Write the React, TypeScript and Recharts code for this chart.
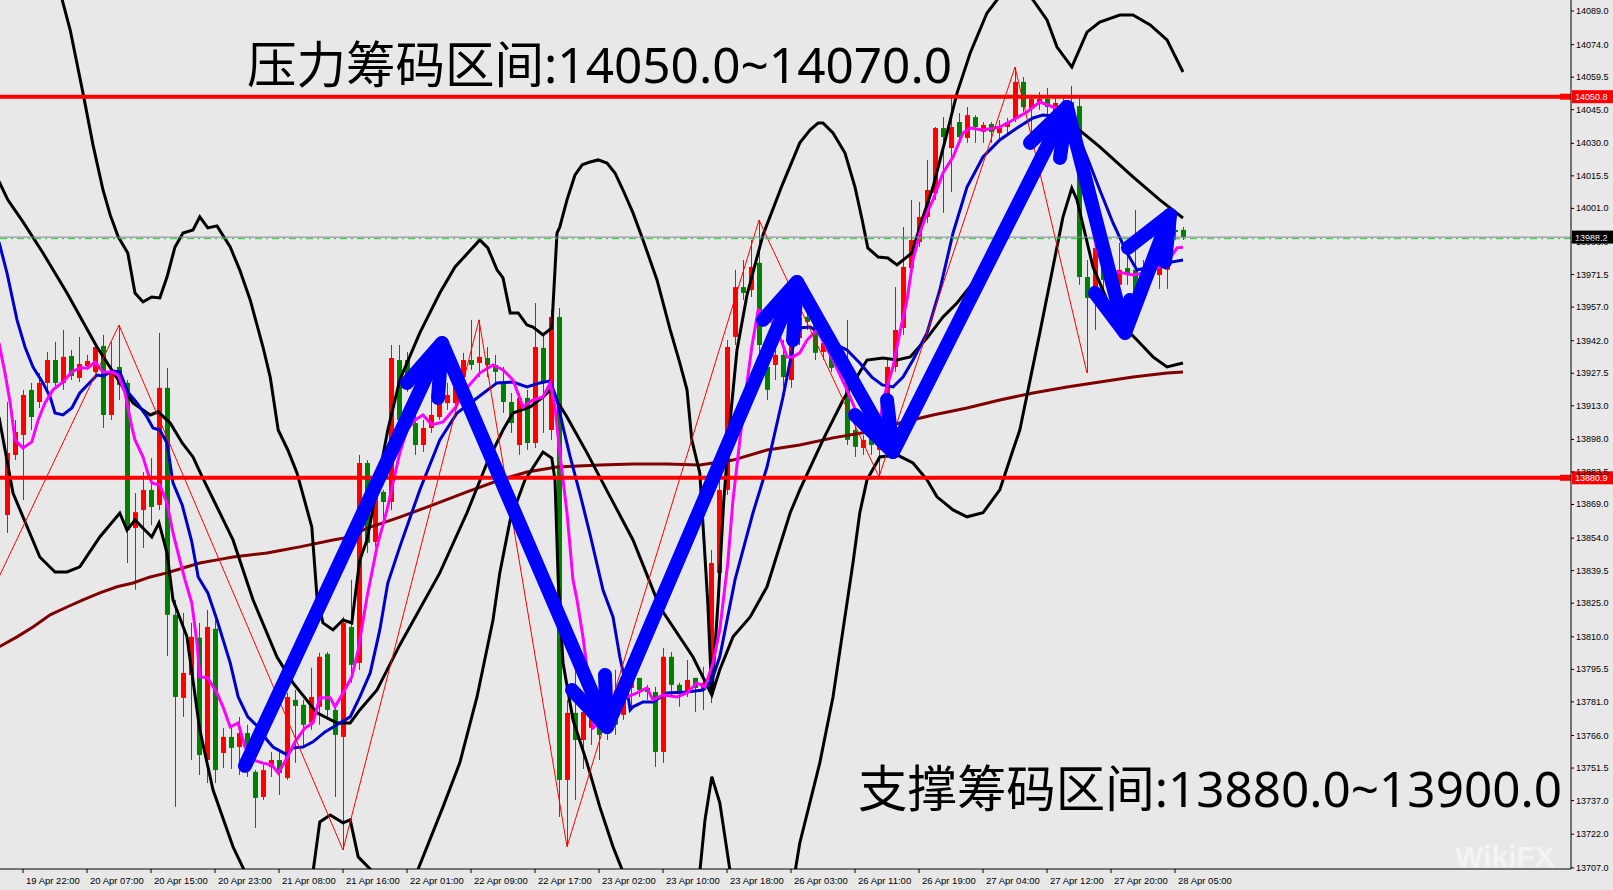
import React from "react";
import {
  ComposedChart,
  Bar,
  Line,
  XAxis,
  YAxis,
  ReferenceLine,
  Customized,
} from "recharts";

// H1 candles, index 0 = 19 Apr 22:00
const START = -2;

const opens = [
  13864.3, 13891.1, 13900.0, 13920.1, 13914.7, 13923.2, 13933.4, 13923.2, 13935.2, 13925.4,
  13930.7, 13928.1, 13939.7, 13908.9, 13930.3, 13923.2, 13858.5, 13866.5, 13875.5, 13868.8,
  13921.0, 13819.8, 13782.8, 13793.0, 13809.6, 13755.1, 13813.6, 13758.2, 13765.4, 13760.9,
  13767.1, 13749.8, 13738.6, 13751.9, 13755.1, 13747.1, 13781.9, 13779.7, 13771.7, 13778.8,
  13802.4, 13777.4, 13765.4, 13814.4, 13798.4, 13887.5, 13852.3, 13874.6, 13870.1, 13933.4,
  13933.4, 13905.3, 13895.5, 13903.1, 13908.0, 13914.2, 13914.2, 13925.8, 13933.4, 13932.1,
  13934.3, 13931.2, 13923.6, 13914.7, 13895.5, 13916.5, 13896.4, 13938.8, 13902.2, 13952.6,
  13746.2, 13776.1, 13764.0, 13769.4, 13773.0, 13768.5, 13776.5, 13775.2, 13787.2, 13791.7,
  13787.2, 13785.4, 13758.7, 13801.1, 13788.6, 13785.4, 13791.7, 13786.3, 13786.3, 13838.5,
  13875.5, 13943.7, 13965.9, 13964.6, 13976.7, 13930.3, 13931.2, 13935.7, 13924.5, 13943.2,
  13952.6, 13951.3, 13937.0, 13939.2, 13930.3, 13931.2, 13902.2, 13894.2, 13898.7, 13893.3,
  13897.8, 13930.3, 13947.7, 13974.4, 13986.0, 13997.2, 14007.9, 14036.8, 14027.9, 14039.5,
  14032.4, 14041.7, 14035.1, 14038.6, 14034.6, 14037.3, 14041.3, 14057.4, 14045.8, 14048.0,
  14049.8, 14044.0, 14046.2, 14048.4, 14046.6, 13970.4, 13960.2, 13982.5, 13964.6, 13966.9,
  13974.4, 13973.6, 13966.9, 13981.1, 13971.3, 13973.6, 13991.4, 13991.4,
];

const highs = [
  13914.7, 13906.7, 13920.1, 13923.2, 13927.6, 13937.0, 13941.5, 13946.8, 13937.9, 13943.7,
  13935.7, 13940.1, 13944.6, 13941.5, 13949.0, 13924.5, 13874.1, 13883.5, 13889.7, 13945.5,
  13929.9, 13826.5, 13820.7, 13816.2, 13816.2, 13822.0, 13817.6, 13769.4, 13769.4, 13774.3,
  13770.8, 13750.6, 13752.9, 13758.7, 13758.7, 13785.0, 13786.3, 13781.9, 13796.2, 13802.9,
  13803.3, 13778.8, 13818.9, 13835.4, 13891.1, 13888.8, 13877.0, 13875.5, 13940.1, 13940.1,
  13937.0, 13908.9, 13906.7, 13915.6, 13921.4, 13923.2, 13926.7, 13936.6, 13951.3, 13951.3,
  13939.2, 13935.7, 13930.3, 13918.7, 13918.7, 13920.1, 13958.8, 13945.5, 13955.7, 13956.6,
  13781.9, 13798.4, 13777.4, 13781.9, 13777.4, 13778.3, 13795.3, 13786.3, 13793.0, 13791.7,
  13788.6, 13787.7, 13805.1, 13803.3, 13789.5, 13799.7, 13791.7, 13796.6, 13848.7, 13879.9,
  13942.3, 13973.6, 13978.0, 13986.9, 13995.8, 13943.7, 13939.2, 13942.3, 13945.5, 13955.7,
  13955.7, 13953.5, 13944.6, 13942.3, 13936.6, 13951.3, 13904.5, 13900.0, 13901.3, 13901.3,
  13933.4, 13965.9, 13992.7, 14004.8, 14003.9, 14022.6, 14037.3, 14041.7, 14050.7, 14043.5,
  14046.2, 14042.6, 14039.5, 14039.5, 14040.4, 14041.3, 14064.0, 14059.6, 14051.6, 14052.9,
  14054.7, 14050.2, 14050.7, 14055.6, 14050.7, 13978.0, 13984.7, 13986.9, 13978.0, 13985.6,
  13980.2, 14000.3, 13978.0, 13984.7, 13982.5, 13986.9, 13994.5, 13992.7,
];

const lows = [
  13856.3, 13888.8, 13871.0, 13902.2, 13912.0, 13918.7, 13921.0, 13920.1, 13924.5, 13923.6,
  13929.0, 13927.6, 13903.1, 13906.7, 13915.6, 13842.9, 13830.9, 13849.6, 13859.8, 13866.5,
  13801.5, 13734.2, 13774.3, 13755.1, 13748.4, 13744.8, 13744.8, 13751.5, 13751.1, 13748.4,
  13747.5, 13724.8, 13737.3, 13747.5, 13739.5, 13746.2, 13753.8, 13760.9, 13768.5, 13770.8,
  13773.0, 13738.6, 13715.0, 13789.5, 13795.3, 13847.4, 13850.1, 13858.9, 13866.5, 13897.8,
  13919.2, 13891.1, 13892.4, 13900.9, 13906.7, 13911.1, 13911.1, 13923.2, 13929.0, 13925.8,
  13925.8, 13922.3, 13909.8, 13900.9, 13891.1, 13893.3, 13894.2, 13900.9, 13897.8, 13729.7,
  13716.4, 13737.3, 13751.1, 13761.8, 13755.1, 13764.0, 13766.3, 13773.0, 13778.8, 13783.2,
  13781.9, 13752.0, 13753.8, 13783.2, 13778.8, 13783.2, 13776.5, 13777.4, 13780.5, 13835.4,
  13873.3, 13940.1, 13960.2, 13961.5, 13936.6, 13915.6, 13924.5, 13921.4, 13921.0, 13940.1,
  13946.8, 13933.4, 13933.4, 13928.1, 13926.7, 13895.5, 13890.2, 13891.1, 13891.1, 13881.3,
  13894.7, 13928.1, 13944.6, 13971.3, 13983.8, 13994.5, 14004.8, 13999.0, 14008.3, 14030.6,
  14030.2, 14030.2, 14030.2, 14030.2, 14031.5, 14033.7, 14039.5, 14044.0, 14034.6, 14044.9,
  14040.4, 14041.3, 14044.0, 14044.0, 13966.9, 13927.6, 13946.8, 13960.2, 13960.2, 13963.7,
  13966.9, 13957.1, 13964.6, 13972.7, 13965.1, 13965.1, 13986.9, 13986.9,
];

const closes = [
  13892.0, 13901.3, 13917.8, 13908.0, 13923.2, 13933.4, 13923.2, 13934.8, 13926.3, 13931.6,
  13933.0, 13939.2, 13908.9, 13928.1, 13922.3, 13857.6, 13865.6, 13875.5, 13867.9, 13921.0,
  13819.8, 13783.2, 13793.9, 13810.0, 13757.3, 13814.4, 13750.6, 13765.4, 13760.5, 13767.1,
  13760.9, 13738.2, 13750.6, 13755.1, 13749.3, 13783.2, 13779.2, 13770.8, 13783.2, 13801.1,
  13777.4, 13766.3, 13816.2, 13797.5, 13887.5, 13851.9, 13874.6, 13870.1, 13934.3, 13906.7,
  13923.2, 13895.5, 13903.1, 13908.9, 13914.2, 13917.8, 13921.4, 13933.4, 13931.2, 13934.8,
  13931.2, 13928.1, 13914.7, 13905.3, 13916.5, 13896.4, 13939.2, 13923.2, 13952.6, 13746.2,
  13776.1, 13764.0, 13776.5, 13774.3, 13766.3, 13773.9, 13770.8, 13781.9, 13791.7, 13786.3,
  13785.4, 13758.7, 13801.1, 13788.6, 13785.4, 13790.8, 13787.2, 13789.5, 13842.9, 13875.5,
  13939.2, 13965.9, 13963.3, 13974.9, 13940.1, 13920.1, 13935.7, 13925.8, 13943.2, 13952.2,
  13950.4, 13936.6, 13941.0, 13929.9, 13934.3, 13897.8, 13894.7, 13897.8, 13895.5, 13897.8,
  13930.3, 13946.8, 13974.9, 13986.9, 13997.2, 14009.2, 14036.8, 14032.8, 14037.3, 14032.8,
  14042.6, 14037.3, 14038.2, 14035.1, 14036.8, 14039.5, 14057.4, 14046.2, 14049.8, 14049.8,
  14046.2, 14048.0, 14048.0, 14046.6, 13970.4, 13961.1, 13983.4, 13969.1, 13971.3, 13973.6,
  13971.3, 13960.2, 13974.4, 13974.9, 13980.2, 13983.8, 13990.5, 13988.2,
];

const timeLabels = [
  "19 Apr 22:00", "20 Apr 07:00", "20 Apr 15:00", "20 Apr 23:00", "21 Apr 08:00",
  "21 Apr 16:00", "22 Apr 01:00", "22 Apr 09:00", "22 Apr 17:00", "23 Apr 02:00",
  "23 Apr 10:00", "23 Apr 18:00", "26 Apr 03:00", "26 Apr 11:00", "26 Apr 19:00",
  "27 Apr 04:00", "27 Apr 12:00", "27 Apr 20:00", "28 Apr 05:00",
];

const priceTicks = [
  14089.0, 14074.0, 14059.5, 14045.0, 14030.0, 14015.5, 14001.0, 13986.0, 13971.5,
  13957.0, 13942.0, 13927.5, 13913.0, 13898.0, 13883.5, 13869.0, 13854.0, 13839.5,
  13825.0, 13810.0, 13795.5, 13781.0, 13766.0, 13751.5, 13737.0, 13722.0, 13707.0,
];

const resistanceLevel = 14050.8;
const supportLevel = 13880.9;
const lastPrice = 13988.2;

// indicator lines as [bar index, price]
const maFast: [number, number][] = [
  [-3, 13941.0], [-2.25, 13927.6], [-1.6, 13914.3], [-1, 13897.8], [0, 13894.2], [1.1, 13896.9],
  [1.9, 13906.7], [2.75, 13914.3], [3.75, 13920.1], [5, 13923.6], [6.1, 13928.1], [7.1, 13929.9],
  [8.1, 13929.9], [9, 13932.5], [10, 13928.1], [11.1, 13928.1], [11.9, 13926.7], [12.75, 13918.7],
  [13.6, 13903.6], [14, 13897.8], [15, 13890.2], [15.6, 13883.1], [16.1, 13878.6], [17.1, 13877.7],
  [18, 13869.7], [18.75, 13856.3], [19.6, 13844.3], [20.25, 13835.4], [21.1, 13825.1], [21.75, 13807.3],
  [22.1, 13792.1], [23.1, 13791.7], [24.25, 13785.0], [25, 13778.8], [25.9, 13769.8], [26.9, 13771.6],
  [27.75, 13760.9], [28.75, 13755.1], [30, 13753.7], [31.1, 13752.9], [31.9, 13749.3], [33, 13756.0],
  [34, 13763.2], [35.25, 13769.4], [36.25, 13771.6], [37.1, 13782.8], [38.4, 13782.8], [39, 13778.8],
  [40, 13785.0], [41.1, 13792.1], [41.9, 13804.1], [43, 13827.8], [44.25, 13850.1], [45.5, 13866.6],
  [47.1, 13892.0], [48, 13902.2], [49, 13906.7], [50, 13908.9], [51.1, 13904.5], [52.5, 13905.8],
  [54, 13912.0], [55.5, 13921.0], [57.1, 13927.6], [58.75, 13931.2], [60, 13929.0], [61.25, 13924.5],
  [62.5, 13912.5], [63.75, 13915.6], [65, 13916.9], [65.9, 13923.2], [66.5, 13912.5], [67.1, 13892.0],
  [68, 13865.2], [68.75, 13835.4], [69.25, 13826.5], [70, 13809.9], [70.9, 13785.0], [71.25, 13769.4],
  [72.1, 13771.6], [73.75, 13777.4], [75.5, 13783.2], [76.75, 13785.0], [78, 13787.2], [78.75, 13781.9],
  [80, 13784.1], [81.75, 13783.2], [83, 13785.0], [84.25, 13789.4], [85.25, 13787.7], [86.25, 13798.4],
  [87.1, 13813.1], [88.1, 13843.0], [88.75, 13871.0], [90, 13909.8], [91.1, 13939.2], [91.9, 13955.7],
  [92.5, 13954.4], [93.75, 13949.9], [94.9, 13941.0], [95.5, 13934.8], [96.25, 13934.8], [97.1, 13936.6],
  [98, 13942.3], [99.25, 13946.8], [101.25, 13933.4], [103, 13920.1], [104.6, 13906.7], [105.9, 13899.8],
  [107.1, 13904.5], [107.5, 13915.6], [108.75, 13930.3], [109.6, 13945.5], [110.5, 13960.2], [111.25, 13978.0],
  [112.1, 13990.0], [113, 13999.0], [113.75, 14004.8], [115, 14016.8], [116.25, 14023.9], [117.5, 14034.6],
  [118.4, 14036.8], [120, 14036.0], [122.1, 14037.3], [123.75, 14040.4], [125.5, 14044.0], [127.1, 14048.4],
  [128.75, 14046.2], [130, 14044.9], [131.75, 14027.0], [133, 14004.8], [134.25, 13982.5], [135.5, 13973.5],
  [136.75, 13972.7], [138.75, 13971.3], [140.9, 13972.7], [143, 13976.7], [144.25, 13983.4], [145, 13983.7],
];

const maSlow: [number, number][] = [
  [-3, 13986.0], [-2, 13972.2], [-0.75, 13951.3], [0.25, 13939.2], [1.25, 13930.3], [2.5, 13923.2],
  [3.4, 13916.9], [4, 13909.8], [5, 13908.9], [6.1, 13912.0], [7.1, 13918.7], [9.25, 13926.7],
  [10, 13926.3], [11.25, 13928.5], [12.1, 13928.1], [13.1, 13919.2], [14.25, 13914.3], [15.5, 13908.0],
  [16.25, 13903.1], [17.1, 13902.2], [18, 13896.4], [18.75, 13878.6], [19.9, 13868.8], [21.1, 13852.3],
  [21.9, 13836.7], [23.1, 13829.6], [24.25, 13817.5], [25.9, 13798.4], [26.9, 13783.2], [28.1, 13774.3],
  [29.4, 13769.8], [30.5, 13764.0], [31.25, 13760.9], [33, 13757.4], [33.75, 13760.5], [35, 13760.9],
  [36.25, 13763.2], [37.75, 13767.6], [39.25, 13770.8], [40.9, 13774.3], [42.1, 13783.2], [43.4, 13793.9],
  [44.6, 13813.1], [45.6, 13834.0], [47.1, 13850.1], [49.6, 13875.5], [52.1, 13897.8], [54.25, 13909.8],
  [56.75, 13916.5], [59.25, 13923.2], [61.25, 13923.6], [63, 13921.4], [64.6, 13923.2], [65.9, 13924.1],
  [66.75, 13915.6], [67.5, 13903.6], [68.4, 13890.2], [69.6, 13874.1], [70.9, 13855.4], [72.5, 13830.9],
  [73.75, 13818.9], [74.6, 13801.1], [75.5, 13786.3], [75.9, 13777.4], [76.25, 13778.8], [77.5, 13781.0],
  [78.75, 13781.0], [80.5, 13785.0], [83, 13785.4], [85, 13786.3], [86.1, 13790.8], [87.1, 13801.1],
  [89, 13835.4], [91.25, 13865.3], [93, 13885.7], [95, 13916.9], [96.25, 13939.2], [97.1, 13947.7],
  [98.4, 13948.1], [99.6, 13945.5], [101.25, 13941.0], [103, 13937.9], [104.6, 13932.1], [106.1, 13925.8],
  [107.4, 13922.3], [108.75, 13921.4], [110, 13925.8], [111.25, 13933.4], [113, 13945.5], [114.6, 13964.6],
  [116.25, 13990.0], [118, 14010.5], [120, 14023.9], [122.1, 14031.5], [124.25, 14036.8], [126.25, 14041.3],
  [127.5, 14042.6], [128.75, 14042.2], [130.5, 14039.1], [131.75, 14034.6], [133, 14023.9], [134.6, 14009.2],
  [136.25, 13994.5], [138, 13981.1], [139.25, 13973.5], [140.9, 13974.9], [143, 13976.7], [145, 13978.0],
];

const ma200: [number, number][] = [
  [-3, 13805.5], [-0.75, 13810.0], [1.25, 13814.4], [3.4, 13819.8], [5.5, 13823.3], [7.5, 13826.5],
  [9.6, 13829.6], [11.75, 13832.3], [13.75, 13834.0], [15.9, 13836.7], [18, 13838.5], [20, 13840.7],
  [22.1, 13842.9], [24.25, 13844.3], [26.25, 13845.6], [30.5, 13847.4], [32.5, 13848.7], [34.6, 13850.1],
  [38.75, 13853.2], [40.9, 13854.5], [43, 13858.5], [45, 13860.8], [47.1, 13863.4], [51.25, 13868.8],
  [55.5, 13874.6], [59.6, 13879.9], [63, 13883.5], [66.75, 13885.7], [72.1, 13886.6], [76.25, 13887.0],
  [80.5, 13887.0], [84.6, 13886.6], [88.75, 13888.8], [93, 13893.3], [97.1, 13895.5], [101.25, 13898.7],
  [105.5, 13901.3], [109.6, 13905.3], [113.75, 13908.9], [118, 13912.0], [122.1, 13915.6], [126.25, 13918.7],
  [130.5, 13921.4], [134.6, 13923.6], [138.75, 13925.8], [143, 13927.6], [145, 13928.1],
];

const bandUpper: [number, number][] = [
  [-3, 14220], [4.9, 14093.9], [5.9, 14080.5], [7.5, 14052.4], [8.75, 14029.3], [10, 14009.2],
  [10.9, 13998.1], [11.9, 13988.3], [13.1, 13981.1], [14, 13963.3], [15, 13959.3], [16.1, 13961.5],
  [17.1, 13961.1], [18, 13970.4], [19, 13983.8], [20, 13990.0], [21.25, 13991.4], [22.1, 13997.2],
  [23.1, 13992.3], [24.25, 13993.2], [25.9, 13983.8], [27.1, 13973.5], [28.4, 13960.2], [30, 13939.2],
  [30.9, 13925.8], [31.9, 13902.2], [33.1, 13893.3], [34.25, 13883.1], [36.1, 13859.0], [36.75, 13827.8],
  [37.5, 13816.2], [38.75, 13813.1], [40, 13817.5], [41.1, 13816.2], [42.1, 13844.3], [43, 13853.2],
  [45.6, 13902.2], [47.1, 13924.5], [49.6, 13945.5], [52.1, 13963.3], [54, 13974.9], [57.1, 13986.9],
  [58.1, 13983.4], [59.25, 13973.6], [60, 13970.0], [60.9, 13954.4], [61.9, 13954.4], [63, 13949.0],
  [63.75, 13948.1], [65, 13944.6], [66.1, 13947.7], [66.75, 13990.0], [67.1, 13992.7], [68, 14004.8],
  [69, 14015.9], [69.9, 14020.4], [70.9, 14021.7], [71.9, 14022.6], [73, 14021.2], [74, 14016.8],
  [75, 14009.2], [76.25, 13999.0], [77.5, 13986.9], [79.25, 13969.1], [80.9, 13946.8], [82.1, 13932.1],
  [83, 13920.1], [83.6, 13897.8], [84.6, 13883.1], [85.25, 13845.6], [85.6, 13825.1], [86.1, 13784.1],
  [86.9, 13826.5], [87.6, 13871.0], [88.4, 13906.7], [89.25, 13937.9], [90.5, 13962.4], [92.5, 13989.2],
  [94.9, 14011.4], [97.1, 14030.2], [98.4, 14036.0], [99.4, 14039.1], [100, 14039.1], [101.25, 14034.6],
  [102.75, 14025.7], [104, 14010.5], [104.9, 13995.8], [105.6, 13983.4], [106.9, 13979.3], [108.1, 13978.9],
  [109.25, 13975.8], [111.1, 13981.1], [112.5, 13997.2], [113.75, 14010.5], [115.5, 14034.6], [116.75, 14052.4],
  [118.4, 14070.3], [120.5, 14088.1], [121.75, 14093.9], [123.5, 14106.0], [126.25, 14093.9], [128, 14085.0],
  [129.25, 14072.9], [131.1, 14064.0], [133, 14079.6], [134.6, 14084.1], [137.1, 14087.2], [138.75, 14087.2],
  [140.9, 14082.8], [143, 14076.1], [145, 14061.8],
];

const bandMiddle: [number, number][] = [
  [-3, 14013.0], [-1.9, 14004.8], [0, 13995.0], [2.5, 13981.1], [5.5, 13963.3], [9.25, 13939.2],
  [13.75, 13914.3], [15.9, 13908.9], [16.9, 13910.3], [18.4, 13905.3], [19.9, 13896.4], [21.25, 13890.2],
  [22.4, 13881.3], [23.4, 13874.1], [26.25, 13853.2], [28.75, 13826.5], [31.75, 13801.0], [33.75, 13789.5],
  [36.75, 13776.1], [39.25, 13771.6], [40.9, 13771.6], [42.1, 13777.4], [44.25, 13786.3], [47.1, 13806.4],
  [52.1, 13838.5], [55.5, 13865.3], [58, 13887.5], [60, 13902.2], [61.25, 13909.8], [63.4, 13912.5],
  [65, 13916.9], [65.9, 13920.1], [68, 13908.0], [70.5, 13892.0], [73.4, 13872.4], [76.25, 13853.2],
  [78, 13837.6], [79.6, 13823.3], [83.75, 13801.0], [86.1, 13784.1], [87.1, 13795.3], [88.75, 13810.0],
  [90.9, 13818.9], [93, 13832.3], [95.9, 13865.3], [97.1, 13875.5], [100, 13897.8], [102.5, 13915.6],
  [105.5, 13933.4], [107.5, 13934.3], [109.25, 13933.4], [110.9, 13934.8], [113, 13943.2], [115, 13952.6],
  [116.75, 13958.8], [118.75, 13967.8], [120.9, 13980.2], [123.4, 13998.1], [125.9, 14013.7], [128.4, 14027.0],
  [130.5, 14036.0], [131.75, 14036.8], [134.6, 14028.4], [138.75, 14015.0], [142.1, 14004.8], [145, 13996.7],
];

const bandLower: [number, number][] = [
  [-3, 13908.0], [-1.25, 13874.1], [2.1, 13845.6], [4, 13838.9], [5.5, 13838.9], [7.1, 13841.2],
  [9.6, 13854.5], [12.1, 13865.2], [13, 13857.6], [14, 13862.1], [16.1, 13854.5], [17, 13860.8],
  [18, 13847.4], [18.75, 13826.5], [20.5, 13810.0], [22.1, 13768.5], [23.75, 13741.8], [26.25, 13716.4],
  [27.75, 13705.2], [31, 13680.0], [36.25, 13705.2], [37.1, 13727.5], [38.4, 13730.6], [40, 13727.1],
  [40.9, 13728.4], [41.9, 13711.9], [43.75, 13705.2], [46.5, 13685.0], [49.25, 13705.2], [52.5, 13734.2],
  [54.6, 13753.8], [56.75, 13783.2], [58.75, 13817.5], [59.6, 13838.5], [60.9, 13862.1], [62.75, 13880.0],
  [65, 13892.4], [66.1, 13889.7], [66.5, 13880.0], [66.9, 13835.4], [67.5, 13798.4], [68.75, 13773.0],
  [70.5, 13753.8], [72.1, 13734.2], [73.75, 13716.4], [75, 13705.2], [80, 13660.0], [84.6, 13705.2],
  [85.25, 13728.4], [86.1, 13747.6], [87.1, 13736.0], [88.4, 13705.2], [92.5, 13670.0], [96.5, 13705.2],
  [97.1, 13718.1], [99.6, 13753.8], [101.25, 13783.2], [102.5, 13813.1], [103.75, 13843.0], [104.6, 13865.3],
  [105.5, 13880.0], [107.1, 13890.2], [109.25, 13891.1], [111.25, 13887.5], [113, 13880.0], [114.25, 13872.4],
  [116.25, 13866.6], [118, 13863.5], [120, 13865.3], [122.1, 13875.5], [123.75, 13893.3], [124.6, 13902.2],
  [127.1, 13945.5], [128.75, 13974.9], [130, 13997.2], [131.1, 14010.1], [131.75, 14004.8], [133.75, 13974.9],
  [135.5, 13960.2], [138, 13946.8], [139.25, 13942.3], [141.25, 13934.8], [143, 13930.3], [145, 13932.1],
];

const zigzag: [number, number][] = [
  [-3, 13836.7], [12, 13949.0], [40, 13715.0], [57, 13951.3], [68, 13716.4],
  [92, 13995.8], [107, 13881.3], [124, 14064.0], [133, 13927.6],
];

// hand-drawn trend arrows
const arrowPath: [number, number][] = [
  [27.75, 13752.5], [52.375, 13941.0], [73.0, 13769.8], [96.75, 13968.2],
  [108.75, 13892.4], [130.5, 14046.2], [137.75, 13945.5], [143.375, 13998.1],
];

const arrowHeads: [number, number][][] = [
  [[48.0, 13923.2], [52.375, 13941.0], [51.875, 13916.5]],
  [[68.625, 13786.3], [73.0, 13769.8], [72.75, 13793.0]],
  [[92.5, 13951.3], [96.75, 13968.2], [96.25, 13942.3]],
  [[104.0, 13908.9], [108.75, 13892.4], [108.0, 13915.6]],
  [[125.875, 14030.2], [130.5, 14046.2], [129.625, 14023.5]],
  [[134.0, 13963.3], [137.75, 13945.5], [138.375, 13960.2]],
  [[138.125, 13983.4], [143.375, 13998.1], [142.75, 13977.1]],
];

const BG = "#E8E8E8";
const UP = "#FF0000";
const DOWN = "#008000";
const AXIS_FONT = "'Liberation Sans', Arial, sans-serif";

const candles = opens.map((o, k) => ({
  i: START + k,
  o,
  h: highs[k],
  l: lows[k],
  c: closes[k],
  range: [lows[k], highs[k]],
}));

const toPts = (arr: [number, number][]) => arr.map(([i, v]) => ({ i, v }));

const timeTicks = timeLabels.map((_, k) => k * 8);

const Candle = (props: any) => {
  const { x, y, width, height, payload } = props;
  if (!payload) return null;
  const { o, h, l, c } = payload;
  const span = h - l;
  const k = span > 0 ? Math.abs(height) / span : 0;
  const top = height >= 0 ? y : y + height;
  const yO = top + (h - o) * k;
  const yC = top + (h - c) * k;
  const color = c >= o ? UP : DOWN;
  const cx = Math.round(x + width / 2);
  const bodyTop = Math.min(yO, yC);
  const bodyH = Math.max(1, Math.abs(yO - yC));
  return (
    <g>
      <line x1={cx + 0.5} x2={cx + 0.5} y1={top} y2={top + Math.abs(height)} stroke={color} strokeWidth={1} />
      <rect x={cx - 2} y={bodyTop} width={5} height={bodyH} fill={color} />
    </g>
  );
};

const TimeTick = (props: any) => {
  const { x, y, payload } = props;
  const label = timeLabels[Math.round(payload.value / 8)];
  if (!label) return null;
  return (
    <text x={x + 3} y={y + 9} fontSize={9.5} fontFamily={AXIS_FONT} fill="#000" textAnchor="start">
      {label}
    </text>
  );
};

const PriceTick = (props: any) => {
  const { x, y, payload } = props;
  return (
    <text x={x} y={y + 3} fontSize={9} fontFamily={AXIS_FONT} fill="#000" textAnchor="start">
      {Number(payload.value).toFixed(1)}
    </text>
  );
};

const PriceTag = (props: any) => {
  const { viewBox, text, bg, marker } = props;
  if (!viewBox) return null;
  const x0 = viewBox.x + viewBox.width;
  const y0 = viewBox.y;
  return (
    <g>
      {marker && <rect x={x0 - 11} y={y0 - 3} width={11} height={6} fill={bg} />}
      <rect x={x0 + 1} y={y0 - 6.5} width={41} height={13} fill={bg} />
      <text x={x0 + 4} y={y0 + 3.5} fontSize={9} fontFamily={AXIS_FONT} fill="#FFFFFF">
        {text}
      </text>
    </g>
  );
};

const Annotations = () => (
  <g>
    <text
      x={247}
      y={83}
      fontSize={50}
      fontFamily="'Noto Sans', 'Noto Sans CJK SC', sans-serif"
      fill="#000"
      textLength={705}
      lengthAdjust="spacingAndGlyphs"
    >
      压力筹码区间:14050.0~14070.0
    </text>
    <text
      x={858}
      y={807}
      fontSize={50}
      fontFamily="'Noto Sans', 'Noto Sans CJK SC', sans-serif"
      fill="#000"
      textLength={704}
      lengthAdjust="spacingAndGlyphs"
    >
      支撑筹码区间:13880.0~13900.0
    </text>
    <text x={1455} y={867} fontSize={30} fontWeight="bold" fontFamily={AXIS_FONT} fill="#FFFFFF" opacity={0.5}>
      WikiFX
    </text>
  </g>
);

const lineProps = {
  dataKey: "v",
  type: "linear" as const,
  dot: false,
  activeDot: false,
  isAnimationActive: false,
};

export default function App() {
  return (
    <div style={{ position: "absolute", left: 0, top: 0, width: 1613, height: 890, background: BG, overflow: "hidden" }}>
      <ComposedChart width={1613} height={890} data={candles} margin={{ top: 0, right: 0, bottom: 0, left: 0 }}>
        <XAxis
          dataKey="i"
          type="number"
          domain={[-2.875, 193.5]}
          allowDataOverflow
          ticks={timeTicks}
          interval={0}
          tick={<TimeTick />}
          tickSize={4}
          height={21}
          axisLine={{ stroke: "#000" }}
          tickLine={{ stroke: "#000" }}
        />
        <YAxis
          orientation="right"
          type="number"
          domain={[13706.5, 14093.9]}
          allowDataOverflow
          ticks={priceTicks}
          interval={0}
          tick={<PriceTick />}
          tickSize={3}
          tickMargin={2}
          width={42}
          axisLine={{ stroke: "#000" }}
          tickLine={{ stroke: "#000" }}
        />
        <Bar dataKey="range" barSize={5} shape={<Candle />} isAnimationActive={false} />
        <Line {...lineProps} data={toPts(ma200)} stroke="#800000" strokeWidth={3} />
        <Line {...lineProps} data={toPts(bandUpper)} stroke="#000" strokeWidth={3} />
        <Line {...lineProps} data={toPts(bandMiddle)} stroke="#000" strokeWidth={3} />
        <Line {...lineProps} data={toPts(bandLower)} stroke="#000" strokeWidth={3} />
        <Line {...lineProps} data={toPts(maSlow)} stroke="#0000CC" strokeWidth={3} />
        <Line {...lineProps} data={toPts(maFast)} stroke="#FF00FF" strokeWidth={3} />
        <Line {...lineProps} data={toPts(zigzag)} stroke="#FF0000" strokeWidth={1} />
        <ReferenceLine y={lastPrice} stroke="#778899" strokeWidth={1} label={<PriceTag text="13988.2" bg="#000000" />} />
        <ReferenceLine y={lastPrice - 0.7} stroke="#22CC22" strokeWidth={1} strokeDasharray="7 4 2 4" />
        <ReferenceLine y={resistanceLevel} stroke="#FF0000" strokeWidth={4} label={<PriceTag text="14050.8" bg="#FF0000" marker />} />
        <ReferenceLine y={supportLevel} stroke="#FF0000" strokeWidth={4} label={<PriceTag text="13880.9" bg="#FF0000" marker />} />
        <Line
          {...lineProps}
          data={toPts(arrowPath)}
          stroke="#0000FF"
          strokeWidth={14}
          strokeLinecap="round"
          strokeLinejoin="round"
        />
        {arrowHeads.map((head, k) => (
          <Line
            key={`head-${k}`}
            {...lineProps}
            data={toPts(head)}
            stroke="#0000FF"
            strokeWidth={14}
            strokeLinecap="round"
            strokeLinejoin="round"
          />
        ))}
        <Customized component={Annotations} />
      </ComposedChart>
    </div>
  );
}
